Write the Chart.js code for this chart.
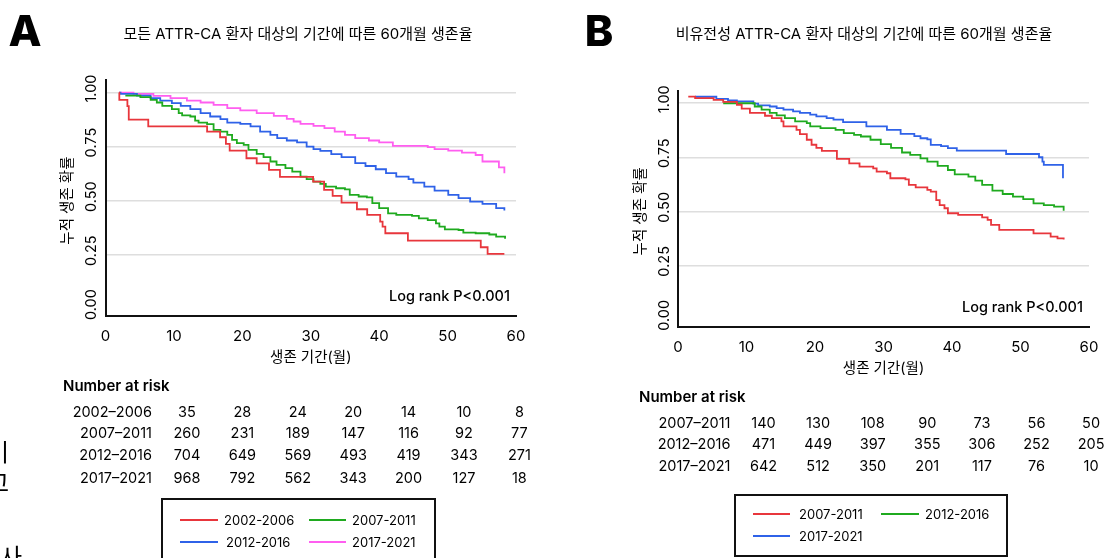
<!DOCTYPE html>
<html>
<head>
<meta charset="utf-8">
<script src="https://cdn.jsdelivr.net/npm/chart.js@4"></script>
<style>
  body { margin: 0; width: 1115px; height: 558px; overflow: hidden; background: #fff; position: relative; color: #000; }
  canvas { position: absolute; top: 0; }
  .t { position: absolute; white-space: nowrap; }
  .box { position: absolute; border: 2px solid #111; box-sizing: border-box; }
  .ln { position: absolute; height: 2px; }
</style>
</head>
<body>
<canvas id="chartA" width="560" height="558" style="left:0"></canvas>
<canvas id="chartB" width="555" height="558" style="left:560px"></canvas>
<script>
// 축 눈금
const months = [0, 10, 20, 30, 40, 50, 60];
const yTicks = [0, 0.25, 0.5, 0.75, 1];

// A: 모든 ATTR-CA 환자 (x = 개월, y = 누적 생존 확률)
const a2002_2006 = [[2.0,1.0],[2.02,0.966],[3.2,0.937],[3.4,0.875],[6.25,0.843],[14.85,0.819],[16.75,0.793],[17.6,0.762],[18.15,0.731],[20.6,0.696],[22.1,0.672],[23.9,0.642],[25.5,0.61],[30.35,0.588],[31.95,0.55],[33.2,0.522],[34.5,0.491],[36.75,0.46],[38.25,0.434],[40.15,0.403],[40.5,0.38],[40.9,0.349],[44.2,0.315],[54.85,0.284],[55.85,0.253],[58.3,0.253]];
const a2007_2011 = [[2.9,0.986],[5.1,0.979],[6.6,0.966],[7.5,0.954],[8.3,0.938],[9.7,0.923],[10.7,0.905],[11.2,0.894],[12.4,0.889],[13.1,0.87],[13.6,0.861],[14.85,0.854],[15.8,0.827],[16.8,0.819],[17.8,0.804],[18.5,0.781],[19.2,0.766],[20.2,0.758],[20.9,0.735],[22.1,0.716],[23.1,0.701],[24.1,0.681],[25.0,0.665],[26.3,0.65],[27.3,0.634],[28.5,0.611],[29.4,0.599],[30.4,0.588],[31.4,0.577],[32.2,0.565],[33.7,0.557],[35.0,0.552],[35.7,0.526],[37.0,0.519],[38.2,0.515],[39.0,0.488],[40.0,0.465],[41.3,0.441],[42.5,0.434],[44.8,0.429],[45.8,0.418],[47.1,0.41],[48.3,0.395],[48.8,0.38],[49.6,0.367],[51.6,0.364],[52.3,0.352],[54.1,0.349],[56.1,0.343],[57.1,0.333],[58.4,0.323]];
const a2012_2016 = [[2.0,1.0],[2.2,0.994],[4.6,0.986],[6.6,0.974],[8.0,0.963],[9.7,0.951],[11.0,0.938],[12.4,0.923],[13.9,0.905],[15.3,0.889],[16.8,0.877],[17.8,0.861],[19.7,0.855],[21.2,0.843],[22.6,0.819],[24.1,0.804],[25.1,0.789],[26.5,0.778],[28.0,0.769],[29.4,0.75],[30.4,0.738],[31.4,0.73],[33.0,0.715],[34.5,0.701],[36.5,0.673],[38.0,0.66],[39.5,0.645],[41.0,0.627],[42.5,0.611],[44.3,0.599],[45.0,0.583],[46.6,0.565],[48.1,0.546],[50.1,0.526],[51.6,0.511],[53.3,0.495],[55.1,0.485],[57.1,0.465],[58.3,0.454]];
const a2017_2021 = [[2.0,1.0],[4.1,0.994],[7.0,0.985],[9.5,0.974],[11.9,0.963],[13.9,0.954],[15.8,0.943],[17.8,0.928],[19.7,0.917],[22.1,0.905],[24.6,0.892],[26.5,0.878],[27.5,0.866],[28.5,0.855],[30.4,0.846],[32.0,0.835],[33.5,0.819],[35.0,0.804],[36.5,0.789],[38.5,0.778],[40.0,0.769],[42.0,0.753],[47.1,0.747],[48.1,0.738],[50.1,0.731],[52.1,0.722],[54.1,0.711],[55.1,0.681],[57.5,0.654],[58.3,0.627]];

// B: 비유전성 ATTR-CA 환자
const b2007_2011 = [[1.5,1.031],[2.5,1.024],[5.2,1.016],[6.6,1.006],[8.6,0.993],[9.3,0.975],[10.5,0.955],[12.7,0.942],[13.7,0.931],[15.1,0.916],[15.4,0.893],[17.3,0.877],[17.8,0.857],[18.8,0.831],[19.5,0.808],[20.2,0.793],[21.0,0.78],[23.2,0.743],[25.0,0.722],[26.5,0.707],[28.5,0.699],[29.0,0.684],[30.5,0.676],[31.0,0.653],[33.2,0.648],[33.7,0.622],[34.7,0.611],[36.4,0.599],[36.9,0.591],[37.7,0.552],[38.2,0.529],[38.9,0.514],[39.4,0.491],[40.9,0.483],[44.4,0.472],[45.2,0.46],[45.7,0.437],[46.9,0.414],[51.9,0.398],[54.4,0.383],[55.4,0.375],[56.3,0.37]];
const b2012_2016 = [[6.6,1.0],[11.2,0.985],[12.2,0.97],[13.4,0.955],[14.4,0.944],[15.6,0.931],[17.1,0.916],[18.8,0.908],[19.3,0.893],[20.8,0.885],[23.0,0.877],[24.2,0.862],[25.7,0.854],[26.7,0.846],[28.1,0.831],[29.6,0.811],[31.1,0.793],[32.7,0.772],[33.9,0.761],[35.4,0.745],[36.4,0.73],[37.9,0.71],[39.4,0.691],[40.4,0.671],[42.4,0.66],[43.4,0.642],[44.4,0.622],[45.9,0.596],[47.4,0.58],[48.9,0.568],[50.4,0.556],[51.9,0.537],[53.4,0.529],[54.9,0.522],[56.3,0.503]];
const b2017_2021 = [[2.5,1.03],[5.6,1.02],[7.3,1.013],[8.6,1.009],[11.0,0.998],[11.7,0.99],[13.4,0.985],[14.4,0.977],[15.4,0.97],[16.8,0.962],[17.8,0.955],[19.3,0.947],[20.2,0.939],[21.7,0.931],[22.7,0.924],[24.1,0.913],[27.5,0.893],[30.5,0.877],[32.5,0.858],[34.5,0.848],[35.4,0.838],[36.4,0.833],[36.9,0.807],[38.4,0.802],[39.4,0.792],[40.7,0.781],[47.9,0.765],[52.7,0.75],[53.2,0.73],[53.4,0.715],[56.2,0.653]];

// Number at risk
const riskLabelsA = ['2002–2006', '2007–2011', '2012–2016', '2017–2021'];
const riskA = [[35, 28, 24, 20, 14, 10, 8], [260, 231, 189, 147, 116, 92, 77], [704, 649, 569, 493, 419, 343, 271], [968, 792, 562, 343, 200, 127, 18]];
const riskLabelsB = ['2007–2011', '2012–2016', '2017–2021'];
const riskB = [[140, 130, 108, 90, 73, 56, 50], [471, 449, 397, 355, 306, 252, 205], [642, 512, 350, 201, 117, 76, 10]];

const RED = '#e8363c', GREEN = '#1faa1f', BLUE = '#2f62e8', PINK = '#ff5ef0';
const FONT = "Inter, 'Noto Sans CJK KR', sans-serif";

const toXY = arr => arr.map(p => ({ x: p[0], y: p[1] }));
const line = (label, arr, color) => ({
  label: label, data: toXY(arr), borderColor: color, borderWidth: 1.8,
  stepped: true, pointRadius: 0, fill: false
});

// 눈금 글자, 축 제목, Log rank 표시
const axisText = {
  id: 'axisText',
  afterDraw(chart) {
    const ctx = chart.ctx, x = chart.scales.x, y = chart.scales.y;
    ctx.save();
    ctx.fillStyle = '#000';
    ctx.textAlign = 'center';
    ctx.textBaseline = 'middle';
    ctx.font = '14.5px ' + FONT;
    yTicks.forEach(v => {
      ctx.save();
      ctx.translate(x.left - 13.5, y.getPixelForValue(v) - 4);
      ctx.rotate(-Math.PI / 2);
      ctx.fillText(v.toFixed(2), 0, 0);
      ctx.restore();
    });
    ctx.font = '15px ' + FONT;
    months.forEach(m => ctx.fillText(String(m), x.getPixelForValue(m), y.bottom + 20.5));
    ctx.font = '14.5px ' + FONT;
    ctx.save();
    ctx.translate(x.left - 37.5, y.getPixelForValue(0.5));
    ctx.rotate(-Math.PI / 2);
    ctx.fillText('누적 생존 확률', 0, 0);
    ctx.restore();
    ctx.fillText('생존 기간(월)', (x.left + x.right) / 2, y.bottom + 42);
    ctx.font = '500 14.5px ' + FONT;
    ctx.textAlign = 'right';
    ctx.fillText('Log rank P<0.001', x.right - 6, y.getPixelForValue(0.056));
    ctx.restore();
  }
};

function makeChart(id, datasets, padding) {
  return new Chart(document.getElementById(id), {
    type: 'line',
    data: { datasets: datasets },
    options: {
      responsive: false,
      animation: false,
      layout: { padding: padding },
      plugins: { legend: { display: false }, tooltip: { enabled: false } },
      scales: {
        x: {
          type: 'linear', min: 0, max: 60,
          afterBuildTicks: s => { s.ticks = months.map(v => ({ value: v })); },
          afterFit: s => { s.height = 0; },
          ticks: { display: false },
          grid: { display: false, drawTicks: false },
          border: { display: true, color: '#111', width: 2 }
        },
        y: {
          min: -0.034, max: 1.058,
          afterBuildTicks: s => { s.ticks = yTicks.map(v => ({ value: v })); },
          afterFit: s => { s.width = 0; },
          ticks: { display: false },
          grid: {
            drawTicks: false, lineWidth: 1.5,
            color: c => (c.tick && c.tick.value === 0) ? 'rgba(0,0,0,0)' : '#dedede'
          },
          border: { display: true, color: '#111', width: 2 }
        }
      }
    },
    plugins: [axisText]
  });
}

makeChart('chartA', [
  line('2002-2006', a2002_2006, RED),
  line('2007-2011', a2007_2011, GREEN),
  line('2012-2016', a2012_2016, BLUE),
  line('2017-2021', a2017_2021, PINK)
], { left: 105.5, right: 44, top: 80, bottom: 242 });

makeChart('chartB', [
  line('2007-2011', b2007_2011, RED),
  line('2012-2016', b2012_2016, GREEN),
  line('2017-2021', b2017_2021, BLUE)
], { left: 118, right: 26, top: 90.7, bottom: 231.3 });

// 글자 배치
function put(text, x, y, font, align) {
  const d = document.createElement('div');
  d.className = 't';
  d.textContent = text;
  const ax = align === 'right' ? '-100%' : align === 'left' ? '0' : '-50%';
  d.style.left = x + 'px';
  d.style.top = y + 'px';
  d.style.transform = 'translate(' + ax + ',-50%)';
  d.style.font = font;
  document.body.appendChild(d);
}
function legendLine(x, y, w, color) {
  const d = document.createElement('div');
  d.className = 'ln';
  d.style.left = x + 'px';
  d.style.top = (y - 1) + 'px';
  d.style.width = w + 'px';
  d.style.background = color;
  document.body.appendChild(d);
}
function box(x, y, w, h) {
  const d = document.createElement('div');
  d.className = 'box';
  d.style.left = x + 'px'; d.style.top = y + 'px';
  d.style.width = w + 'px'; d.style.height = h + 'px';
  document.body.appendChild(d);
}

put('A', 25, 30, '800 43px/1 ' + FONT);
put('B', 599, 30, '800 43px/1 ' + FONT);
put('모든 ATTR-CA 환자 대상의 기간에 따른 60개월 생존율', 298, 33, '15px/1 ' + FONT);
put('비유전성 ATTR-CA 환자 대상의 기간에 따른 60개월 생존율', 864, 33, '15px/1 ' + FONT);

// 위험군 수 표
function riskTable(labels, rows, titleX, titleY, labelRight, rowYs, col0, step) {
  put('Number at risk', titleX, titleY, '600 15px/1 ' + FONT, 'left');
  rows.forEach((r, i) => {
    put(labels[i], labelRight, rowYs[i], '14.5px/1 ' + FONT, 'right');
    r.forEach((n, j) => put(String(n), col0 + j * step, rowYs[i], '14.5px/1 ' + FONT));
  });
}
riskTable(riskLabelsA, riskA, 63, 385, 152, [412, 433, 455, 478], 187, 55.4);
riskTable(riskLabelsB, riskB, 639, 396, 730.5, [423, 444, 466], 763.5, 54.6);

// 범례
box(161, 498, 275, 80);
legendLine(180, 520, 38, RED);   put('2002-2006', 224, 520, '13px/1 ' + FONT, 'left');
legendLine(309, 520, 37, GREEN); put('2007-2011', 352, 520, '13px/1 ' + FONT, 'left');
legendLine(180, 542, 38, BLUE);  put('2012-2016', 226, 542, '13px/1 ' + FONT, 'left');
legendLine(309, 542, 37, PINK);  put('2017-2021', 352, 542, '13px/1 ' + FONT, 'left');

box(734, 494, 274, 63);
legendLine(753, 514, 37, RED);   put('2007-2011', 799, 514, '13px/1 ' + FONT, 'left');
legendLine(881, 514, 38, GREEN); put('2012-2016', 925, 514, '13px/1 ' + FONT, 'left');
legendLine(753, 536, 37, BLUE);  put('2017-2021', 799, 536, '13px/1 ' + FONT, 'left');

// 왼쪽 가장자리에 잘린 본문 글자
put('이', -13, 451, "24px/1 'Noto Sans CJK KR'", 'left');
put('고', -13, 482, "24px/1 'Noto Sans CJK KR'", 'left');
put('사', 0, 556, "24px/1 'Noto Sans CJK KR'", 'left');
</script>
</body>
</html>
